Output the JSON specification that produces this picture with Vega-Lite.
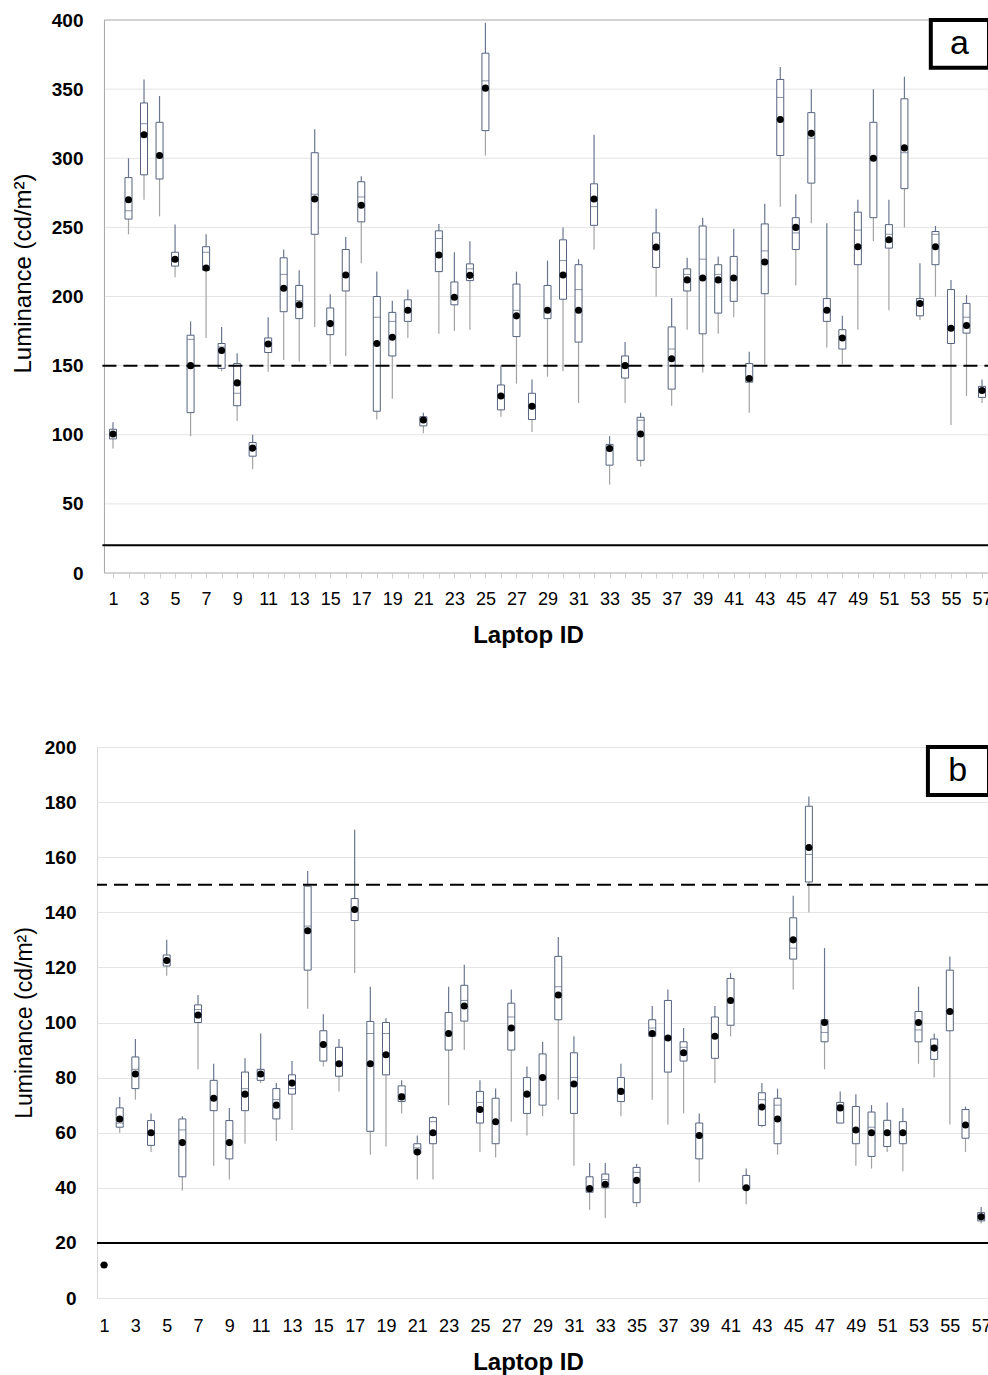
{
  "$schema": "https://vega.github.io/schema/vega-lite/v6.json",
  "padding": {"left": 11, "top": 11, "right": 0, "bottom": 0},
  "background": "white",
  "config": {"font": "Liberation Sans", "axis": {"labelColor": "#000", "titleColor": "#000"}, "axisX": {"labelOverlap": false}},
  "datasets": {
    "a": [
      {"id":1,"lo":90,"q1":97,"md":100,"q3":104,"hi":109,"mn":100.5},
      {"id":2,"lo":245,"q1":256,"md":262,"q3":286,"hi":300,"mn":270},
      {"id":3,"lo":270,"q1":288,"md":325,"q3":340,"hi":357,"mn":317},
      {"id":4,"lo":258,"q1":285,"md":301,"q3":326,"hi":345,"mn":302},
      {"id":5,"lo":214,"q1":222,"md":228,"q3":232,"hi":252,"mn":227},
      {"id":6,"lo":99,"q1":116,"md":169,"q3":172,"hi":182,"mn":150},
      {"id":7,"lo":170,"q1":219,"md":232,"q3":236,"hi":245,"mn":220.6},
      {"id":8,"lo":146,"q1":148,"md":163.5,"q3":166,"hi":178,"mn":161},
      {"id":9,"lo":110,"q1":121,"md":130,"q3":151.5,"hi":159,"mn":137.5},
      {"id":10,"lo":75,"q1":84.5,"md":90,"q3":94.4,"hi":100,"mn":90.3},
      {"id":11,"lo":145.5,"q1":159.5,"md":166,"q3":170,"hi":185,"mn":165.7},
      {"id":12,"lo":154,"q1":189,"md":216,"q3":228,"hi":234,"mn":206},
      {"id":13,"lo":153,"q1":184,"md":197,"q3":208,"hi":219,"mn":194},
      {"id":14,"lo":178,"q1":245,"md":274,"q3":304,"hi":321,"mn":270.5},
      {"id":15,"lo":151,"q1":172.4,"md":181,"q3":191.7,"hi":201.6,"mn":180.4},
      {"id":16,"lo":157,"q1":204,"md":216,"q3":234,"hi":243,"mn":215.5},
      {"id":17,"lo":224,"q1":254,"md":272,"q3":283,"hi":287,"mn":266},
      {"id":18,"lo":111,"q1":117,"md":185,"q3":200,"hi":218,"mn":166},
      {"id":19,"lo":126,"q1":157,"md":182,"q3":188.5,"hi":197,"mn":170.5},
      {"id":20,"lo":170,"q1":182,"md":191,"q3":197.6,"hi":205,"mn":190},
      {"id":21,"lo":101,"q1":106.4,"md":111,"q3":113,"hi":116,"mn":110.7},
      {"id":22,"lo":173,"q1":218,"md":242,"q3":247.5,"hi":252.5,"mn":230},
      {"id":23,"lo":175,"q1":194,"md":200,"q3":210.5,"hi":232,"mn":199.5},
      {"id":24,"lo":176,"q1":211.5,"md":220,"q3":223.6,"hi":240,"mn":215.3},
      {"id":25,"lo":302,"q1":320,"md":356,"q3":376,"hi":398,"mn":350.7},
      {"id":26,"lo":113,"q1":118,"md":128,"q3":136,"hi":150,"mn":128},
      {"id":27,"lo":137,"q1":171,"md":190,"q3":209,"hi":218,"mn":186},
      {"id":28,"lo":102,"q1":111,"md":121,"q3":130,"hi":140,"mn":120.6},
      {"id":29,"lo":142,"q1":184,"md":190,"q3":208,"hi":226,"mn":190},
      {"id":30,"lo":146,"q1":198,"md":226,"q3":241,"hi":250,"mn":215.5},
      {"id":31,"lo":123,"q1":167,"md":205,"q3":223,"hi":227,"mn":190},
      {"id":32,"lo":234,"q1":251.5,"md":265,"q3":281.5,"hi":317,"mn":270.5},
      {"id":33,"lo":64,"q1":78,"md":90,"q3":93,"hi":99,"mn":90},
      {"id":34,"lo":123,"q1":141,"md":150,"q3":157,"hi":167,"mn":150},
      {"id":35,"lo":77,"q1":81.5,"md":110.5,"q3":112.6,"hi":116,"mn":100.5},
      {"id":36,"lo":200,"q1":221,"md":236,"q3":246,"hi":263.5,"mn":235.7},
      {"id":37,"lo":121,"q1":133,"md":162,"q3":178,"hi":199,"mn":155},
      {"id":38,"lo":176,"q1":204,"md":216,"q3":220,"hi":228,"mn":212},
      {"id":39,"lo":145,"q1":173,"md":227,"q3":251,"hi":257,"mn":213.4},
      {"id":40,"lo":173,"q1":188,"md":216,"q3":223,"hi":229,"mn":212},
      {"id":41,"lo":185,"q1":196.5,"md":213,"q3":229,"hi":249,"mn":213.4},
      {"id":42,"lo":116,"q1":138,"md":141,"q3":151.5,"hi":160,"mn":140.7},
      {"id":43,"lo":151,"q1":202,"md":233,"q3":252.5,"hi":267,"mn":225},
      {"id":44,"lo":265,"q1":302,"md":344,"q3":357,"hi":366,"mn":328},
      {"id":45,"lo":208,"q1":234,"md":246,"q3":257,"hi":274,"mn":250},
      {"id":46,"lo":253,"q1":282,"md":314.5,"q3":333,"hi":350,"mn":318},
      {"id":47,"lo":163,"q1":182,"md":190,"q3":198.5,"hi":253,"mn":190},
      {"id":48,"lo":151,"q1":162,"md":171,"q3":176,"hi":186,"mn":170},
      {"id":49,"lo":176,"q1":223,"md":248,"q3":261,"hi":270,"mn":236},
      {"id":50,"lo":240,"q1":257,"md":300,"q3":326,"hi":350,"mn":300},
      {"id":51,"lo":190,"q1":235,"md":245,"q3":252,"hi":270,"mn":241},
      {"id":52,"lo":250,"q1":278,"md":304,"q3":343,"hi":359,"mn":307.5},
      {"id":53,"lo":183,"q1":186,"md":196,"q3":198.5,"hi":224,"mn":195},
      {"id":54,"lo":200,"q1":223,"md":245,"q3":247,"hi":251,"mn":236},
      {"id":55,"lo":107,"q1":166,"md":177,"q3":205,"hi":212,"mn":177},
      {"id":56,"lo":128,"q1":173.5,"md":185,"q3":195,"hi":201,"mn":179},
      {"id":57,"lo":123,"q1":127,"md":132,"q3":135,"hi":140,"mn":132}
    ],
    "b": [
      {"id":1,"lo":12,"q1":12,"md":12,"q3":12,"hi":12,"mn":12},
      {"id":2,"lo":60,"q1":62,"md":63.5,"q3":69,"hi":73,"mn":65},
      {"id":3,"lo":72,"q1":76,"md":83,"q3":87.5,"hi":94,"mn":81.3},
      {"id":4,"lo":53,"q1":55.4,"md":60,"q3":64.4,"hi":67,"mn":60},
      {"id":5,"lo":117,"q1":120.5,"md":122,"q3":124.5,"hi":130,"mn":122.5},
      {"id":6,"lo":39,"q1":44,"md":61,"q3":65,"hi":66,"mn":56.4},
      {"id":7,"lo":83,"q1":100,"md":104.7,"q3":106.4,"hi":110,"mn":102.7},
      {"id":8,"lo":48,"q1":68,"md":73,"q3":79,"hi":85,"mn":72.5},
      {"id":9,"lo":43,"q1":50.5,"md":56,"q3":64.4,"hi":69,"mn":56.4},
      {"id":10,"lo":56,"q1":68,"md":76,"q3":82,"hi":87,"mn":74},
      {"id":11,"lo":78,"q1":79,"md":80.5,"q3":83,"hi":96,"mn":81.3},
      {"id":12,"lo":57,"q1":65,"md":72,"q3":76,"hi":78,"mn":70},
      {"id":13,"lo":61,"q1":74,"md":76,"q3":81,"hi":86,"mn":78},
      {"id":14,"lo":105,"q1":119,"md":135,"q3":149.5,"hi":155,"mn":133.3},
      {"id":15,"lo":84,"q1":86,"md":92,"q3":97,"hi":103,"mn":92},
      {"id":16,"lo":75,"q1":80.5,"md":85,"q3":91,"hi":94,"mn":85},
      {"id":17,"lo":118,"q1":137,"md":141,"q3":145,"hi":170,"mn":141},
      {"id":18,"lo":52,"q1":60.5,"md":96,"q3":100.4,"hi":113,"mn":85},
      {"id":19,"lo":55,"q1":81,"md":96,"q3":100,"hi":101.5,"mn":88.3},
      {"id":20,"lo":67,"q1":71.3,"md":74,"q3":77,"hi":79,"mn":73},
      {"id":21,"lo":43,"q1":52.5,"md":54.5,"q3":56,"hi":59,"mn":53},
      {"id":22,"lo":43,"q1":56,"md":64,"q3":65.5,"hi":66,"mn":60},
      {"id":23,"lo":70,"q1":90,"md":96,"q3":103.6,"hi":113,"mn":96},
      {"id":24,"lo":90,"q1":100.5,"md":108,"q3":113.5,"hi":121,"mn":106},
      {"id":25,"lo":53,"q1":63.5,"md":71,"q3":75,"hi":79,"mn":68.4},
      {"id":26,"lo":51,"q1":56,"md":64,"q3":72.5,"hi":76,"mn":64},
      {"id":27,"lo":64,"q1":90,"md":102,"q3":107,"hi":112,"mn":98},
      {"id":28,"lo":59,"q1":67,"md":74,"q3":80,"hi":84,"mn":74},
      {"id":29,"lo":66,"q1":70,"md":80,"q3":88.6,"hi":93,"mn":80},
      {"id":30,"lo":72,"q1":101,"md":113,"q3":124,"hi":131,"mn":110},
      {"id":31,"lo":48,"q1":67,"md":80,"q3":89,"hi":95,"mn":77.7},
      {"id":32,"lo":32,"q1":38.4,"md":40,"q3":44,"hi":49,"mn":39.7},
      {"id":33,"lo":29,"q1":40,"md":43,"q3":45,"hi":49,"mn":41.3},
      {"id":34,"lo":66,"q1":71.3,"md":75,"q3":80,"hi":85,"mn":75},
      {"id":35,"lo":33,"q1":34.6,"md":45.6,"q3":47.4,"hi":48.7,"mn":42.7},
      {"id":36,"lo":72,"q1":95,"md":98,"q3":101,"hi":106,"mn":96},
      {"id":37,"lo":63,"q1":82,"md":95,"q3":108,"hi":112,"mn":94.4},
      {"id":38,"lo":67,"q1":86,"md":91,"q3":93,"hi":98,"mn":89},
      {"id":39,"lo":42,"q1":50.5,"md":59,"q3":63.5,"hi":67,"mn":59},
      {"id":40,"lo":78,"q1":87,"md":95,"q3":102,"hi":106,"mn":95},
      {"id":41,"lo":95,"q1":99,"md":108,"q3":116,"hi":118,"mn":108},
      {"id":42,"lo":34,"q1":39.5,"md":40,"q3":44.5,"hi":47,"mn":40},
      {"id":43,"lo":62,"q1":62.6,"md":72,"q3":74.5,"hi":78,"mn":69.3},
      {"id":44,"lo":52,"q1":56,"md":70,"q3":72.5,"hi":76,"mn":65},
      {"id":45,"lo":112,"q1":123,"md":127,"q3":138,"hi":146,"mn":130},
      {"id":46,"lo":140,"q1":151,"md":161,"q3":178.5,"hi":182,"mn":163.5},
      {"id":47,"lo":83,"q1":93,"md":96.4,"q3":101,"hi":127,"mn":100},
      {"id":48,"lo":63.5,"q1":63.5,"md":70,"q3":71,"hi":75,"mn":69},
      {"id":49,"lo":48,"q1":56,"md":61,"q3":69.5,"hi":74,"mn":61},
      {"id":50,"lo":47,"q1":51.4,"md":62,"q3":67.5,"hi":70,"mn":60},
      {"id":51,"lo":53,"q1":55,"md":60,"q3":64.5,"hi":71,"mn":60},
      {"id":52,"lo":46,"q1":56,"md":60,"q3":64,"hi":69,"mn":60},
      {"id":53,"lo":85,"q1":93,"md":97.3,"q3":104,"hi":113,"mn":100},
      {"id":54,"lo":80,"q1":86.6,"md":91.7,"q3":94,"hi":96,"mn":90.7},
      {"id":55,"lo":63,"q1":97,"md":104,"q3":119,"hi":124,"mn":104},
      {"id":56,"lo":53,"q1":58,"md":63,"q3":68.4,"hi":69.5,"mn":62.8},
      {"id":57,"lo":27,"q1":28,"md":29.5,"q3":31,"hi":33,"mn":29.5}
    ],
    "gridA": [{"g":50},{"g":100},{"g":150},{"g":200},{"g":250},{"g":300},{"g":350}]
  },
  "vconcat": [
    {
      "width": 892,
      "height": 553,
      "view": {"stroke": null},
      "data": {"name": "a"},
      "layer": [
        {
          "data": {"name": "gridA"},
          "mark": {"type": "rule", "color": "#e4e4e4", "strokeWidth": 1},
          "encoding": {
            "x": {"datum": 0.45, "type": "quantitative",
              "scale": {"domain": [-0.03, 57.45], "nice": false, "zero": false, "padding": 0},
              "axis": {"values": [1,2,3,4,5,6,7,8,9,10,11,12,13,14,15,16,17,18,19,20,21,22,23,24,25,26,27,28,29,30,31,32,33,34,35,36,37,38,39,40,41,42,43,44,45,46,47,48,49,50,51,52,53,54,55,56,57],
                "tickCount": 60,
                "labelExpr": "datum.value % 2 == 1 ? datum.label : ''",
                "title": "Laptop ID", "grid": false, "domain": false,
                "tickColor": "#d0d0d0", "tickSize": 5, "labelFontSize": 18, "labelPadding": 12,
                "labelFlush": false, "labelOverlap": false,
                "titleFontSize": 24, "titleFontWeight": "bold", "titlePadding": 15, "titleX": 431}},
            "x2": {"datum": 57.45},
            "y": {"field": "g", "type": "quantitative",
              "scale": {"domain": [0, 400], "nice": false, "zero": true, "padding": 0},
              "axis": {"values": [0,50,100,150,200,250,300,350,400], "title": "Luminance (cd/m²)",
                "grid": false, "domain": false, "ticks": false,
                "labelFontSize": 19, "labelFontWeight": "bold", "labelPadding": 14,
                "titleFontSize": 24, "titleFontWeight": "normal", "titlePadding": 16, "titleY": 253}}
          }
        },
        {
          "data": {"values": [{}]},
          "mark": {"type": "rect", "fill": null, "stroke": "#a6a6a6", "strokeWidth": 1},
          "encoding": {"x": {"datum": 0.45}, "x2": {"datum": 57.45}, "y": {"datum": 0}, "y2": {"datum": 400}}
        },
        {
          "mark": {"type": "rule", "color": "#a3a3a3", "strokeWidth": 1.2},
          "encoding": {
            "x": {"field": "id", "type": "quantitative"},
            "y": {"field": "lo", "type": "quantitative"},
            "y2": {"field": "q1"}
          }
        },
        {
          "mark": {"type": "rule", "color": "#6b7690", "strokeWidth": 1.2},
          "encoding": {
            "x": {"field": "id", "type": "quantitative"},
            "y": {"field": "q3", "type": "quantitative"},
            "y2": {"field": "hi"}
          }
        },
        {
          "mark": {"type": "bar", "size": 7, "fill": "white", "stroke": "#56627e", "strokeWidth": 1},
          "encoding": {
            "x": {"field": "id", "type": "quantitative"},
            "y": {"field": "q1", "type": "quantitative"},
            "y2": {"field": "q3"}
          }
        },
        {
          "mark": {"type": "tick", "orient": "horizontal", "size": 7, "thickness": 1, "color": "#56627e"},
          "encoding": {
            "x": {"field": "id", "type": "quantitative"},
            "y": {"field": "md", "type": "quantitative"}
          }
        },
        {
          "data": {"values": [{}]},
          "mark": {"type": "rule", "color": "black", "strokeWidth": 2, "strokeDash": [14, 7]},
          "encoding": {"x": {"datum": 0.32}, "x2": {"datum": 57.45}, "y": {"datum": 150}}
        },
        {
          "data": {"values": [{}]},
          "mark": {"type": "rule", "color": "black", "strokeWidth": 2},
          "encoding": {"x": {"datum": 0.32}, "x2": {"datum": 57.45}, "y": {"datum": 20}}
        },
        {
          "mark": {"type": "point", "shape": "circle", "filled": true, "size": 50, "color": "black", "opacity": 1},
          "encoding": {
            "x": {"field": "id", "type": "quantitative"},
            "y": {"field": "mn", "type": "quantitative"}
          }
        },
        {
          "data": {"values": [{}]},
          "mark": {"type": "rect", "fill": "white", "stroke": "black", "strokeWidth": 4},
          "encoding": {"x": {"datum": 53.7}, "x2": {"datum": 57.45}, "y": {"datum": 365.5}, "y2": {"datum": 400}}
        },
        {
          "data": {"values": [{}]},
          "mark": {"type": "text", "text": "a", "fontSize": 34, "color": "black", "align": "center", "baseline": "middle"},
          "encoding": {"x": {"datum": 55.55}, "y": {"datum": 383}}
        }
      ]
    },
    {
      "width": 892,
      "height": 551,
      "view": {"stroke": "#d6d6d6"},
      "data": {"name": "b"},
      "layer": [
        {
          "mark": {"type": "rule", "color": "#a3a3a3", "strokeWidth": 1.2},
          "encoding": {
            "x": {"field": "id", "type": "quantitative",
              "scale": {"domain": [0.55, 57.5], "nice": false, "zero": false, "padding": 0},
              "axis": {"values": [1,3,5,7,9,11,13,15,17,19,21,23,25,27,29,31,33,35,37,39,41,43,45,47,49,51,53,55,57],
                "tickCount": 60,
                "title": "Laptop ID", "grid": false, "domain": false,
                "ticks": false, "labelFontSize": 18, "labelPadding": 19,
                "labelFlush": false, "labelOverlap": false,
                "titleFontSize": 24, "titleFontWeight": "bold", "titlePadding": 15, "titleX": 431}},
            "y": {"field": "lo", "type": "quantitative",
              "scale": {"domain": [0, 200], "nice": false, "zero": true, "padding": 0},
              "axis": {"values": [0,20,40,60,80,100,120,140,160,180,200], "title": "Luminance (cd/m²)",
                "grid": true, "gridColor": "#e4e4e4", "domain": false, "ticks": false,
                "labelFontSize": 19, "labelFontWeight": "bold", "labelPadding": 21,
                "titleFontSize": 23, "titleFontWeight": "normal", "titlePadding": 8}},
            "y2": {"field": "q1"}
          }
        },
        {
          "mark": {"type": "rule", "color": "#6b7690", "strokeWidth": 1.2},
          "encoding": {
            "x": {"field": "id", "type": "quantitative"},
            "y": {"field": "q3", "type": "quantitative"},
            "y2": {"field": "hi"}
          }
        },
        {
          "mark": {"type": "bar", "size": 7, "fill": "white", "stroke": "#56627e", "strokeWidth": 1},
          "encoding": {
            "x": {"field": "id", "type": "quantitative"},
            "y": {"field": "q1", "type": "quantitative"},
            "y2": {"field": "q3"}
          }
        },
        {
          "mark": {"type": "tick", "orient": "horizontal", "size": 7, "thickness": 1, "color": "#56627e"},
          "encoding": {
            "x": {"field": "id", "type": "quantitative"},
            "y": {"field": "md", "type": "quantitative"}
          }
        },
        {
          "data": {"values": [{}]},
          "mark": {"type": "rule", "color": "black", "strokeWidth": 2, "strokeDash": [14, 7]},
          "encoding": {"y": {"datum": 150}}
        },
        {
          "data": {"values": [{}]},
          "mark": {"type": "rule", "color": "black", "strokeWidth": 2},
          "encoding": {"y": {"datum": 20}}
        },
        {
          "mark": {"type": "point", "shape": "circle", "filled": true, "size": 50, "color": "black", "opacity": 1},
          "encoding": {
            "x": {"field": "id", "type": "quantitative"},
            "y": {"field": "mn", "type": "quantitative"}
          }
        },
        {
          "data": {"values": [{}]},
          "mark": {"type": "rect", "fill": "white", "stroke": "black", "strokeWidth": 4},
          "encoding": {"x": {"datum": 53.6}, "x2": {"datum": 57.5}, "y": {"datum": 182.6}, "y2": {"datum": 200}}
        },
        {
          "data": {"values": [{}]},
          "mark": {"type": "text", "text": "b", "fontSize": 34, "color": "black", "align": "center", "baseline": "middle"},
          "encoding": {"x": {"datum": 55.5}, "y": {"datum": 191.3}}
        }
      ]
    }
  ],
  "align": "none",
  "bounds": "full",
  "spacing": 90
}
